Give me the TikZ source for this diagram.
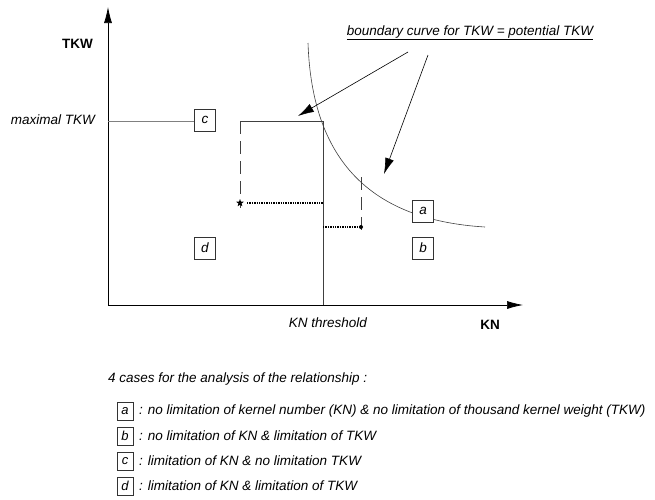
\documentclass[tikz,border=0pt]{standalone}
\usepackage{fontspec}
\setmainfont{Liberation Sans}
\usetikzlibrary{arrows.meta,shapes.geometric}
\begin{document}
\begin{tikzpicture}[x=1pt,y=-1pt,
  lbl/.style={font=\fontsize{13.5}{15}\selectfont\itshape, inner sep=0pt},
  bold/.style={font=\fontsize{13.5}{15}\selectfont\bfseries, inner sep=0pt},
  casebox/.style={draw=black!80, fill=white, line width=0.5pt, minimum width=21pt, minimum height=22pt, inner sep=0pt, font=\fontsize{13.5}{15}\selectfont\itshape},
  legbox/.style={draw=black!80, fill=white, line width=0.5pt, minimum width=16pt, minimum height=18pt, inner sep=0pt, font=\fontsize{13}{15}\selectfont\itshape},
  thin/.style={line width=0.6pt, draw=black!75},
  bigarrow/.style={-{Latex[length=16pt,width=9pt]}, line width=0.6pt},
  dashv/.style={line width=0.6pt, draw=black!75, dash pattern=on 13pt off 7pt},
  dotl/.style={line width=1.3pt, dash pattern=on 1.3pt off 1.1pt}
]
\useasboundingbox (0,0) rectangle (655,499);

% axes
\coordinate (O) at (108,305);
\coordinate (ytop) at (108,7);
\coordinate (xend) at (523,305);
\draw[line width=0.7pt, -{Latex[length=16pt,width=8pt]}] (O) -- (ytop);
\draw[line width=0.7pt, -{Latex[length=16pt,width=8pt]}] (O) -- (xend);

% axis labels
\node[bold, anchor=east] (tkw) at (93,44) {TKW};
\node[lbl, anchor=east] (maxtkw) at (95,120) {maximal TKW};
\node[lbl] (knth) at (328,323) {KN threshold};
\node[bold] (kn) at (490,325) {KN};

% boundary curve
\coordinate (c0) at (308,43);
\coordinate (c1) at (312,160);
\coordinate (c2) at (370,220);
\coordinate (c3) at (485,227);
\draw[thin] (c0) .. controls (c1) and (c2) .. (c3);

% maximal TKW line and threshold
\coordinate (m0) at (108,121);
\coordinate (m1) at (240,121);
\coordinate (m2) at (323,121);
\coordinate (t0) at (323,305);
\draw[line width=0.6pt, draw=black!50] (m0) -- (195,121);
\draw[thin] (m1) -- (m2);
\draw[thin] (m2) -- (t0);

% case c projection
\coordinate (s) at (240,203);
\coordinate (s1) at (323,203);
\draw[dashv] (m1) -- ([yshift=-5pt]s);
\node[star, star points=5, star point ratio=2.4, fill=black, inner sep=0pt, minimum size=8pt] (star) at (s) {};
\draw[dotl] ([xshift=7pt]s) -- (s1);

% second projection
\coordinate (p0) at (361,177);
\coordinate (p) at (361,227);
\coordinate (p1) at (323,227);
\draw[dashv] (p0) -- ([yshift=-4pt]p);
\fill (p) circle (2pt);
\coordinate (pd) at (p);
\draw[dotl] (p1) -- (pd);

% boxes
\node[casebox] (ba) at (423,211) {a};
\node[casebox] (bb) at (423,248) {b};
\node[casebox] (bc) at (205,120) {c};
\node[casebox] (bd) at (205,248) {d};

% label and arrows
\node[lbl] (bnd) at (470,33) {\underline{boundary curve for TKW = potential TKW}};
\coordinate (a1s) at (408,52);
\coordinate (a1e) at (298,116);
\coordinate (a2s) at (428,55);
\coordinate (a2e) at (384,174);
\draw[bigarrow] (a1s) -- (a1e);
\draw[bigarrow] (a2s) -- (a2e);

% legend
\node[lbl, anchor=west] (leg) at (108,379) {4 cases for the analysis of the relationship :};
\node[legbox] (la) at (125,411) {a};
\node[legbox] (lb) at (125,436) {b};
\node[legbox] (lc) at (125,461) {c};
\node[legbox] (ld) at (125,486) {d};
\node[lbl, anchor=west] (ta) at (139,411) {: no limitation of kernel number (KN) \& no limitation of thousand kernel weight (TKW)};
\node[lbl, anchor=west] (tb) at (139,436) {: no limitation of KN \& limitation of TKW};
\node[lbl, anchor=west] (tc) at (139,461) {: limitation of KN \& no limitation TKW};
\node[lbl, anchor=west] (td) at (139,486) {: limitation of KN \& limitation of TKW};
\end{tikzpicture}
\end{document}
